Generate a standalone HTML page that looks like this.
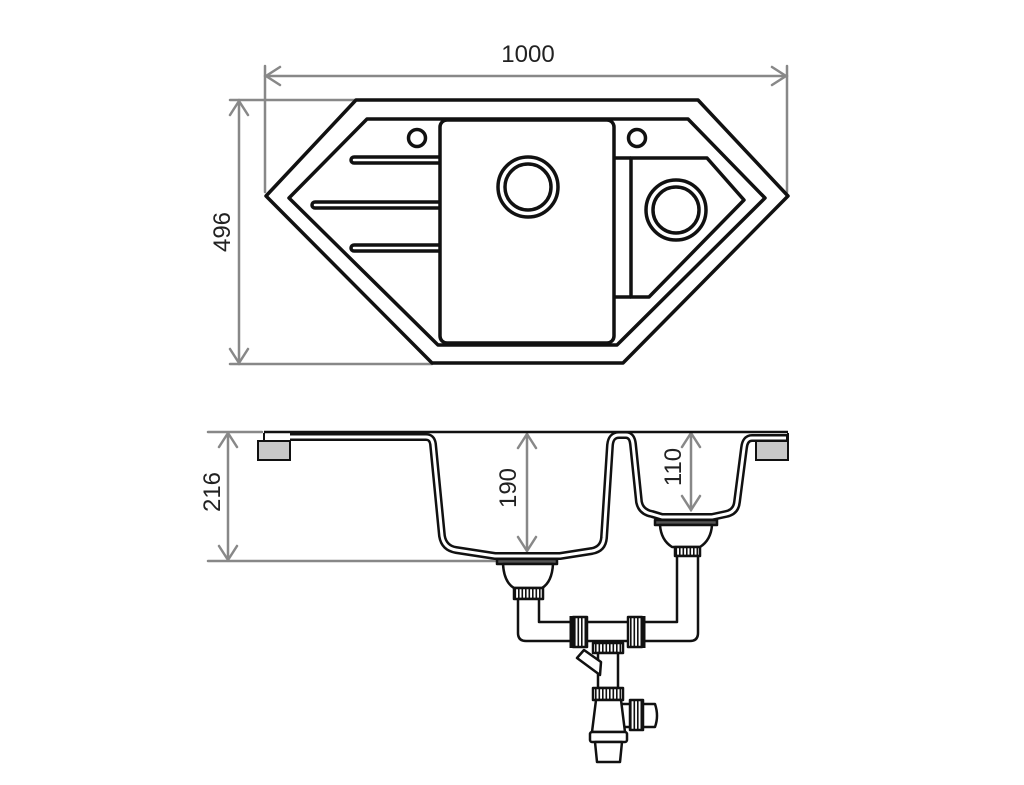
<!DOCTYPE html>
<html><head><meta charset="utf-8"><style>
html,body{margin:0;padding:0;background:#fff;}
svg{display:block;}
text{font-family:"Liberation Sans",sans-serif;fill:#222;}
</style></head><body>
<svg width="1024" height="785" viewBox="0 0 1024 785" xmlns="http://www.w3.org/2000/svg">
<defs>
<pattern id="rib" width="3.5" height="10" patternUnits="userSpaceOnUse">
<rect width="3.5" height="10" fill="#fff"/><rect width="1.6" height="10" fill="#111"/>
</pattern>
</defs>

<g stroke="#888" stroke-width="2.5" fill="none" stroke-linecap="round">
<line x1="265" y1="66" x2="265" y2="192"/>
<line x1="787" y1="66" x2="787" y2="192"/>
<line x1="265" y1="76" x2="787" y2="76"/>
<polyline points="280,67 266,76 280,85"/>
<polyline points="772,67 786,76 772,85"/>
<line x1="230" y1="100" x2="355" y2="100"/>
<line x1="230" y1="364" x2="432" y2="364"/>
<line x1="239" y1="100" x2="239" y2="364"/>
<polyline points="230,115 239,101 248,115"/>
<polyline points="230,349 239,363 248,349"/>
</g>
<text x="528" y="62" font-size="24" text-anchor="middle">1000</text>
<text transform="translate(230,232) rotate(-90)" font-size="24" text-anchor="middle">496</text>

<g stroke="#111" stroke-width="3.5" fill="none" stroke-linejoin="round">
<polygon points="356,100 698,100 788,196 623,363 432,363 266,196"/>
<polygon points="367,119 688,119 765,198 617,345 438,345 289,198"/>
<rect x="440" y="120" width="174" height="223" rx="7"/>
<circle cx="528" cy="187" r="30"/>
<circle cx="528" cy="187" r="23"/>
<circle cx="417" cy="138" r="8.5"/>
<circle cx="637" cy="138" r="8.5"/>
<path d="M440 157 L354 157 A3 3 0 0 0 354 163 L440 163"/>
<path d="M440 202 L315 202 A3 3 0 0 0 315 208 L440 208"/>
<path d="M440 245 L354 245 A3 3 0 0 0 354 251 L440 251"/>
<polygon points="631,158 707,158 744,200 649,297 631,297"/>
<line x1="614" y1="158" x2="631" y2="158"/>
<line x1="614" y1="297" x2="631" y2="297"/>
<circle cx="676" cy="210" r="30"/>
<circle cx="676" cy="210" r="23"/>
</g>

<g stroke="#888" stroke-width="2.5" fill="none" stroke-linecap="round">
<line x1="208" y1="432" x2="262" y2="432"/>
<line x1="208" y1="561" x2="505" y2="561"/>
<line x1="228" y1="433" x2="228" y2="560"/>
<polyline points="219,447 228,433 237,447"/>
<polyline points="219,546 228,560 237,546"/>
<line x1="527" y1="434" x2="527" y2="551"/>
<polyline points="518,448 527,434 536,448"/>
<polyline points="518,537 527,551 536,537"/>
<line x1="691" y1="433" x2="691" y2="510"/>
<polyline points="682,447 691,433 700,447"/>
<polyline points="682,496 691,510 700,496"/>
</g>
<text transform="translate(220,492) rotate(-90)" font-size="24" text-anchor="middle">216</text>
<text transform="translate(516,488) rotate(-90)" font-size="24" text-anchor="middle">190</text>
<text transform="translate(681,467) rotate(-90)" font-size="24" text-anchor="middle">110</text>

<rect x="258" y="441" width="32" height="19" fill="#c8c8c8" stroke="#111" stroke-width="2"/>
<rect x="756" y="441" width="32" height="19" fill="#c8c8c8" stroke="#111" stroke-width="2"/>
<line x1="264" y1="432" x2="788" y2="432" stroke="#111" stroke-width="2.5"/>
<path d="M264 441 L264 433 M788 433 L788 442" stroke="#111" stroke-width="2" fill="none"/>
<path d="M290 437 L426 437 Q432 437 433 444 L442 536 Q444 548 456 550 L495 556 L560 556 L592 551 Q603 549 604 538 L610 445 Q611 435 619 435 L626 435 Q632 435 633 444 L639 502 Q641 512 652 514 L662 517 L712 517 L726 514 Q736 512 737 502 L744 448 Q745 438 752 438 L788 438"
 stroke="#111" stroke-width="8" fill="none" stroke-linejoin="round"/>
<path d="M290 437 L426 437 Q432 437 433 444 L442 536 Q444 548 456 550 L495 556 L560 556 L592 551 Q603 549 604 538 L610 445 Q611 435 619 435 L626 435 Q632 435 633 444 L639 502 Q641 512 652 514 L662 517 L712 517 L726 514 Q736 512 737 502 L744 448 Q745 438 752 438 L786 438"
 stroke="#fff" stroke-width="3" fill="none" stroke-linejoin="round"/>

<g stroke="#111" stroke-width="2.5" fill="#fff" stroke-linejoin="round">
<rect x="497" y="559" width="60" height="5" fill="#555"/>
<path d="M503 564 L553 564 Q552 582 542 588 L514 588 Q504 582 503 564 Z"/>
<rect x="514" y="588" width="29" height="11" fill="url(#rib)"/>
<rect x="655" y="520" width="62" height="5" fill="#555"/>
<path d="M660 525 L712 525 Q711 540 700 547 L672 547 Q661 540 660 525 Z"/>
<rect x="675" y="547" width="25" height="9" fill="url(#rib)"/>
<path d="M518 599 L518 633 Q518 641 526 641 L690 641 Q698 641 698 633 L698 556 L677 556 L677 622 L539 622 L539 599 Z"/>
<rect x="573" y="617" width="14" height="30" fill="url(#rib)"/>
<line x1="571" y1="616" x2="571" y2="648" stroke-width="3"/>
<rect x="628" y="617" width="14" height="30" fill="url(#rib)"/>
<line x1="644" y1="616" x2="644" y2="648" stroke-width="3"/>
<rect x="593" y="643" width="30" height="10" fill="url(#rib)"/>
<rect x="598" y="653" width="20" height="35"/>
<polygon points="577,658 584,650 601,662 600,675"/>
<rect x="593" y="688" width="30" height="12" fill="url(#rib)"/>
<path d="M618 704 L655 704 Q659 716 655 727 L618 727 Z"/>
<rect x="630" y="700" width="13" height="30" fill="url(#rib)"/>
<path d="M596 700 L621 700 L625 732 L592 732 Z"/>
<rect x="590" y="732" width="37" height="10" rx="2"/>
<path d="M595 742 L622 742 L620 762 L597 762 Z"/>
</g>
</svg>
</body></html>
